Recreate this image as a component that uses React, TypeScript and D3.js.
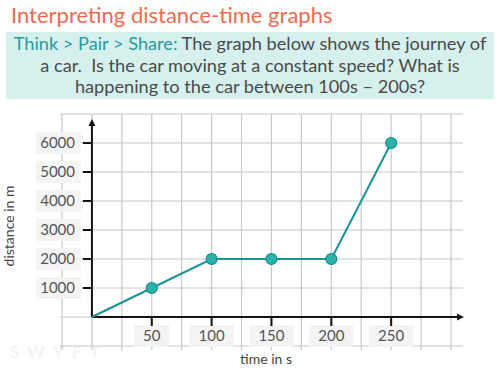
import React from 'react'
import * as d3 from 'd3'

const times = [0, 50, 100, 150, 200, 250]
const distances = [0, 1000, 2000, 2000, 2000, 6000]
const xTickLabels = [50, 100, 150, 200, 250]
const yTickLabels = [1000, 2000, 3000, 4000, 5000, 6000]
const gridX = d3.range(-25, 301, 25)
const gridY = d3.range(-1000, 7001, 1000)

const title = 'Interpreting distance-time graphs'
const promptLead = 'Think > Pair > Share:'
const promptLines = [
  ' The graph below shows the journey of',
  'a car.\u00a0 Is the car moving at a constant speed? What is',
  'happening to the car between 100s \u2013 200s?',
]

const font = 'Lato, "Noto Sans", sans-serif'

export default function App() {
  const width = 500
  const height = 369

  const x = d3.scaleLinear().domain([-25, 300]).range([62, 451])
  const y = d3.scaleLinear().domain([-1000, 7000]).range([346, 114])

  const line = d3
    .line<number>()
    .x((_, i) => x(times[i]))
    .y(d => y(d))

  const teal = '#1a9496'

  return (
    <svg width={width} height={height} style={{ position: 'absolute', left: 0, top: 0, fontFamily: font }}>
      <rect width={width} height={height} fill="#fff" />
      <text x={11} y={23} fontSize={22} fill="#ef6a50">{title}</text>

      <rect x={6} y={32} width={488} height={67} fill="#d6f0ee" />
      <text x={250} y={49.5} fontSize={18.2} textAnchor="middle" fill="#4a4a4a">
        <tspan fill="#2b9aa0">{promptLead}</tspan>
        <tspan>{promptLines[0]}</tspan>
      </text>
      <text x={250} y={71.5} fontSize={18.2} textAnchor="middle" fill="#4a4a4a">{promptLines[1]}</text>
      <text x={250} y={93} fontSize={18.2} textAnchor="middle" fill="#4a4a4a">{promptLines[2]}</text>

      {/* faint watermark */}
      <text x={10} y={358} fontSize={17} fill="#f1f5f8" letterSpacing={8} fontWeight={700}>SWYFT</text>

      {/* grid */}
      <g stroke="#c8c8c8" strokeWidth={1.2}>
        {gridX.map(t => (
          <line key={'gx' + t} x1={x(t)} x2={x(t)} y1={y(7000)} y2={y(-1000) + 4} />
        ))}
        {gridY.map(v => (
          <line key={'gy' + v} x1={60} x2={463} y1={y(v)} y2={y(v)} />
        ))}
      </g>

      {/* y tick label boxes */}
      {yTickLabels.map(v => (
        <g key={'yl' + v}>
          <rect x={36} y={y(v) - 11} width={45} height={22} fill="#f4f4f4" />
          <text x={75} y={y(v) + 5} fontSize={15} textAnchor="end" fill="#555">{v}</text>
        </g>
      ))}

      {/* x tick label boxes */}
      {xTickLabels.map(t => {
        const w = t < 100 ? 35 : 44
        return (
          <g key={'xl' + t}>
            <rect x={x(t) - w / 2} y={325} width={w} height={22} fill="#f4f4f4" />
            <text x={x(t)} y={341} fontSize={15} textAnchor="middle" fill="#555">{t}</text>
          </g>
        )
      })}

      {/* axes */}
      <g stroke="#111" strokeWidth={2}>
        <line x1={x(0)} x2={x(0)} y1={y(0)} y2={124} />
        <line x1={x(0)} x2={458} y1={y(0)} y2={y(0)} />
        {yTickLabels.map(v => (
          <line key={'yt' + v} x1={x(0) - 9} x2={x(0)} y1={y(v)} y2={y(v)} />
        ))}
        {xTickLabels.map(t => (
          <line key={'xt' + t} x1={x(t)} x2={x(t)} y1={y(0)} y2={y(0) + 9} />
        ))}
      </g>
      <path d={`M${x(0)},119 l-3.5,7 l7,0 z`} fill="#111" />
      <path d={`M464,${y(0)} l-7,-3.5 l0,7 z`} fill="#111" />

      {/* data */}
      <path d={line(distances) || ''} fill="none" stroke={teal} strokeWidth={2} />
      {distances.map((d, i) =>
        i === 0 ? null : (
          <circle key={'pt' + i} cx={x(times[i])} cy={y(d)} r={5.5} fill="#2bb3ab" stroke="#168a8c" strokeWidth={1.2} />
        )
      )}

      {/* axis titles */}
      <text x={266} y={364} fontSize={14} textAnchor="middle" fill="#444">time in s</text>
      <text transform={`translate(14, 226) rotate(-90)`} fontSize={14} textAnchor="middle" fill="#444">distance in m</text>
    </svg>
  )
}
